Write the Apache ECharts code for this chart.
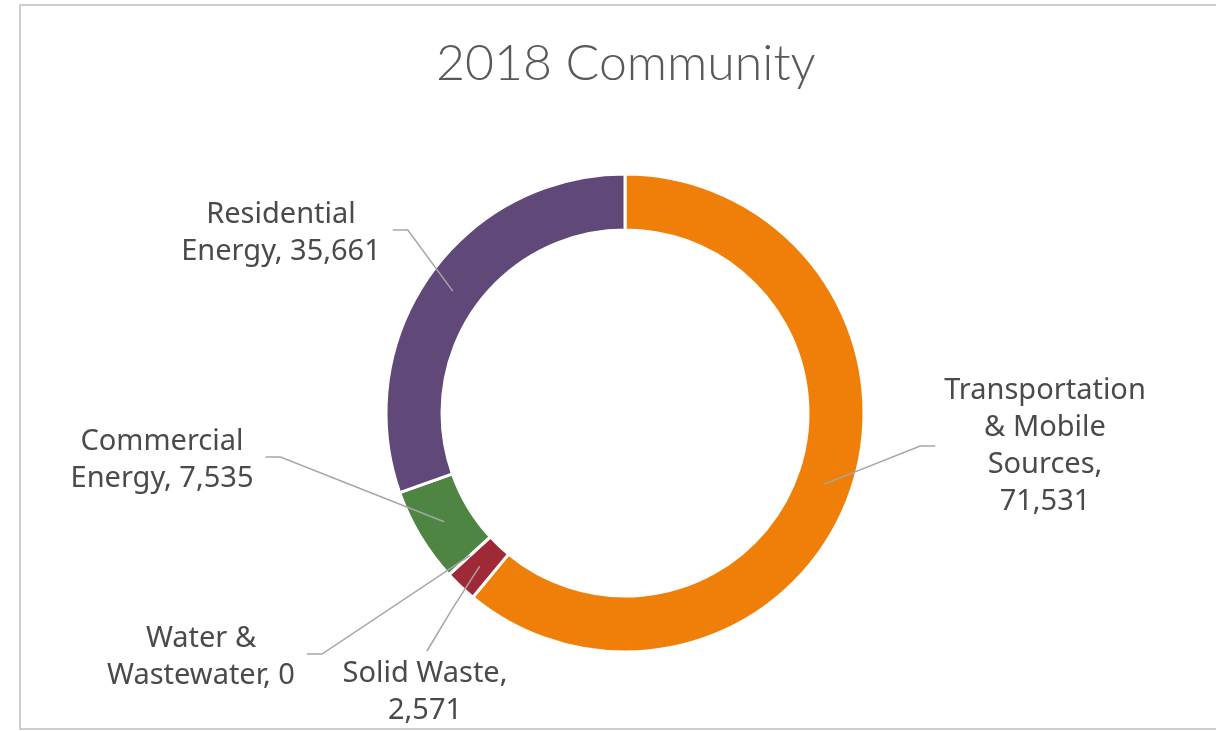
<!DOCTYPE html>
<html>
<head>
<meta charset="utf-8">
<style>
  html, body { margin: 0; padding: 0; background: #ffffff; }
  #chart { width: 1216px; height: 731px; }
</style>
<script src="https://cdn.jsdelivr.net/npm/echarts@6/dist/echarts.min.js"></script>
</head>
<body>
<div id="chart"></div>
<script>
// ---- data ----
var titleText = '2018 Community';
var categories = ['Transportation & Mobile Sources', 'Solid Waste', 'Water & Wastewater', 'Commercial Energy', 'Residential Energy'];
var labelLinesText = [
  ['Transportation', '& Mobile', 'Sources,'],
  ['Solid Waste,'],
  ['Water &', 'Wastewater,'],
  ['Commercial', 'Energy,'],
  ['Residential', 'Energy,']
];
var values = [71531, 2571, 0, 7535, 35661];
var colors = ['#F07F09', '#9F2936', '#1B587C', '#4E8542', '#604878'];

// ---- layout / style ----
var CX = 625, CY = 413, R_IN = 183, R_OUT = 239;
var LABEL_FONT = '"Noto Sans", "Open Sans", sans-serif';
var TITLE_FONT = 'Lato, "Open Sans", sans-serif';
// label anchor (block centre) and which side the leader attaches to
var labelPos = [
  { x: 1045, y: 446, side: 'left' },
  { x: 425, y: 692, side: 'top' },
  { x: 201, y: 657, side: 'right' },
  { x: 162, y: 460, side: 'right' },
  { x: 281, y: 233, side: 'right' }
];

function fmt(v) { return v.toLocaleString('en-US'); }
var total = values.reduce(function (a, b) { return a + b; }, 0);
function midPoint(i) {
  var before = 0;
  for (var k = 0; k < i; k++) before += values[k];
  var a = (before + values[i] / 2) / total * 2 * Math.PI; // clockwise from top
  var r = (R_IN + R_OUT) / 2;
  return [CX + r * Math.sin(a), CY - r * Math.cos(a)];
}

var pieData = categories.map(function (c, i) {
  return { name: c, value: values[i], itemStyle: { color: colors[i] } };
});

var chart = echarts.init(document.getElementById('chart'), null, { renderer: 'canvas' });
chart.setOption({
  animation: false,
  backgroundColor: '#ffffff',
  title: {
    text: titleText,
    left: 436,
    top: 39,
    padding: 0,
    textStyle: { fontFamily: TITLE_FONT, fontSize: 50, fontWeight: 300, color: '#595959' }
  },
  graphic: [{
    type: 'rect',
    shape: { x: 20, y: 5, width: 1300, height: 724 },
    style: { fill: 'none', stroke: '#bfbfbf', lineWidth: 1.5 },
    silent: true
  }],
  series: [{
    type: 'pie',
    z: 2,
    center: [CX, CY],
    radius: [R_IN, R_OUT],
    startAngle: 90,
    clockwise: true,
    silent: true,
    itemStyle: { borderColor: '#ffffff', borderWidth: 3 },
    emphasis: { disabled: true },
    label: { show: false },
    labelLine: { show: false },
    data: pieData
  }, {
    // transparent overlay carrying the data labels so leader lines sit on top of the ring
    type: 'pie',
    z: 5,
    center: [CX, CY],
    radius: [R_IN, R_OUT],
    startAngle: 90,
    clockwise: true,
    silent: true,
    avoidLabelOverlap: false,
    itemStyle: { color: 'rgba(0,0,0,0)', borderWidth: 0 },
    emphasis: { disabled: true },
    label: {
      show: true,
      position: 'outside',
      fontFamily: LABEL_FONT,
      fontSize: 29,
      lineHeight: 37,
      color: '#4a4a4a',
      align: 'center',
      formatter: function (p) {
        var lines = labelLinesText[p.dataIndex].slice();
        var last = lines.length - 1;
        if (p.dataIndex === 0 || p.dataIndex === 1) {
          lines.push(fmt(p.value));
        } else {
          lines[last] = lines[last] + ' ' + fmt(p.value);
        }
        return lines.join('\n');
      }
    },
    labelLine: { show: true, length: 10, length2: 10, lineStyle: { color: '#a6a6a6', width: 1.5 } },
    labelLayout: function (params) {
      var i = params.dataIndex;
      var pos = labelPos[i];
      var w = params.labelRect.width, h = params.labelRect.height;
      var s = midPoint(i);
      var pts;
      if (pos.side === 'left') {
        var ex = pos.x - w / 2 - 9;
        pts = [s, [ex - 15, pos.y], [ex, pos.y]];
      } else if (pos.side === 'right') {
        var ex2 = pos.x + w / 2 + 12;
        pts = [s, [ex2 + 15, pos.y - 3], [ex2, pos.y - 3]];
      } else {
        var ey = pos.y - h / 2 - 4;
        pts = [s, [(s[0] + pos.x) / 2, (s[1] + ey) / 2], [pos.x + 2, ey]];
      }
      return {
        x: pos.x,
        y: pos.y,
        align: 'center',
        verticalAlign: 'middle',
        labelLinePoints: pts
      };
    },
    data: categories.map(function (c, i) { return { name: c, value: values[i] }; })
  }]
});
</script>
</body>
</html>
